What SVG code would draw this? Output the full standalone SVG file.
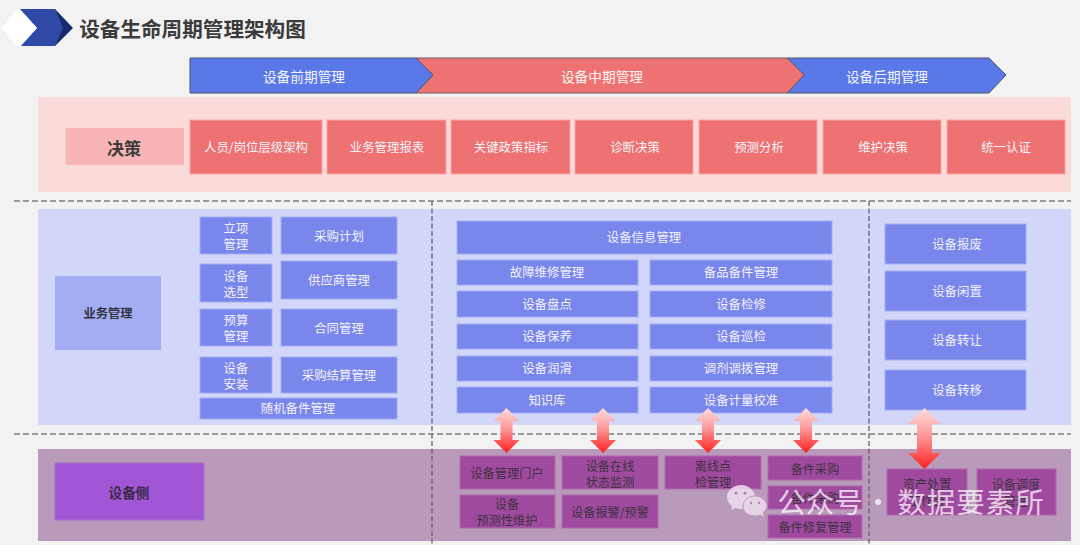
<svg xmlns="http://www.w3.org/2000/svg" width="1080" height="545" viewBox="0 0 1080 545">
<defs>
<linearGradient id="redFade" x1="0" y1="0" x2="0" y2="1"><stop offset="0" stop-color="#ffdcdc"/><stop offset="0.45" stop-color="#fd9a9a"/><stop offset="1" stop-color="#fe1f1f"/></linearGradient>
<symbol id="arrowS" overflow="visible"><path d="M0 0L13 13H6V32H13L0 45L-13 32H-6V13H-13Z" fill="url(#redFade)"/></symbol>
</defs>
<style>
text{font-family:"Noto Sans CJK SC","Liberation Sans",sans-serif;text-anchor:middle;dominant-baseline:central}
.w{fill:#f3f3fb;font-size:12.4px}
.d{fill:#3c3240;font-size:12.2px}
.red{fill:#ee7271;stroke:#f7a6a4;stroke-width:1}
.blue{fill:#7986ec;stroke:#a3adf3;stroke-width:1}
.pur{fill:#a04a9f;stroke:#b066ae;stroke-width:1}
.sep{stroke:#7f7f7f;stroke-width:1.5;fill:none;stroke-dasharray:6 3}
.sepv{stroke:#666;stroke-width:1.3;fill:none;stroke-dasharray:5 2.5}
.wm{fill:#fff;fill-opacity:.72;font-size:28.5px}
</style>
<rect width="1080" height="545" fill="#f2f2f2"/>
<g id="title-icon">
<path d="M55 9L73 28L55 46L52 28Z" fill="#162a6e"/>
<path d="M20 9H55L63 28L55 46H21L37 28Z" fill="#2f4aa6"/>
<path d="M1 28L17 10H20L37 28L20 46H17Z" fill="#fff"/>
</g>
<text id="title" x="192.500" y="28" style="font-size:20.6px;font-weight:700;fill:#3b3b3b">设备生命周期管理架构图</text>
<g id="phase-3"><path d="M787 58H989L1006 75L989 93H787L804 75Z" fill="#5a78e8" stroke="#4a5570" stroke-width="1"/><text x="887" y="75.500" fill="#f4f6ff" style="font-size:13.7px">设备后期管理</text></g>
<g id="phase-2"><path d="M416 58H787L804 75L787 93H416L433 75Z" fill="#ee7271" stroke="#6a5a62" stroke-width="1"/><text x="602" y="75.500" fill="#fff4f4" style="font-size:13.7px">设备中期管理</text></g>
<g id="phase-1"><path d="M190 58H416L433 75L416 93H190Z" fill="#5a78e8" stroke="#4a5570" stroke-width="1"/><text x="304" y="75.500" fill="#f4f6ff" style="font-size:13.7px">设备前期管理</text></g>

<g id="panel-decision"><rect x="38" y="97" width="1033" height="95" fill="#fadbd9"/></g>
<g id="label-decision"><rect x="65.500" y="128" width="118.500" height="37" fill="#f7b6b5"/><text x="124" y="147" style="font-size:17px;font-weight:700;fill:#3c3c3c">决策</text></g>
<g id="d1"><rect class="red" x="190" y="120" width="132" height="54"/><text class="w" x="256" y="146.500">人员/岗位层级架构</text></g>
<g id="d2"><rect class="red" x="327" y="120" width="119" height="54"/><text class="w" x="387" y="146.500">业务管理报表</text></g>
<g id="d3"><rect class="red" x="451" y="120" width="119" height="54"/><text class="w" x="511" y="146.500">关键政策指标</text></g>
<g id="d4"><rect class="red" x="575" y="120" width="118" height="54"/><text class="w" x="635" y="146.500">诊断决策</text></g>
<g id="d5"><rect class="red" x="699" y="120" width="118" height="54"/><text class="w" x="759" y="146.500">预测分析</text></g>
<g id="d6"><rect class="red" x="823" y="120" width="118" height="54"/><text class="w" x="883" y="146.500">维护决策</text></g>
<g id="d7"><rect class="red" x="947" y="120" width="118" height="54"/><text class="w" x="1006" y="146.500">统一认证</text></g>

<g id="panel-business"><rect x="38" y="209" width="1033" height="216" fill="#d2d6f9"/></g>
<g id="label-business"><rect x="55" y="276" width="106" height="74" fill="#a3adf3"/><text x="108" y="313" style="font-size:12.3px;font-weight:700;fill:#33333f">业务管理</text></g>
<g id="b1"><rect class="blue" x="200" y="217" width="72" height="37"/><text class="w" x="236" y="228">立项</text><text class="w" x="236" y="244">管理</text></g>
<g id="b2"><rect class="blue" x="281" y="217" width="116" height="37"/><text class="w" x="339" y="235.500">采购计划</text></g>
<g id="b3"><rect class="blue" x="200" y="264" width="72" height="38"/><text class="w" x="236" y="276">设备</text><text class="w" x="236" y="292">选型</text></g>
<g id="b4"><rect class="blue" x="281" y="261" width="116" height="38"/><text class="w" x="339" y="280">供应商管理</text></g>
<g id="b5"><rect class="blue" x="200" y="309" width="72" height="37"/><text class="w" x="236" y="320">预算</text><text class="w" x="236" y="336">管理</text></g>
<g id="b6"><rect class="blue" x="281" y="309" width="116" height="37"/><text class="w" x="339" y="328">合同管理</text></g>
<g id="b7"><rect class="blue" x="200" y="357" width="72" height="36"/><text class="w" x="236" y="368">设备</text><text class="w" x="236" y="384">安装</text></g>
<g id="b8"><rect class="blue" x="281" y="357" width="116" height="36"/><text class="w" x="339" y="375">采购结算管理</text></g>
<g id="b9"><rect class="blue" x="200" y="398" width="197" height="21"/><text class="w" x="298" y="408">随机备件管理</text></g>

<g id="m0"><rect class="blue" x="457" y="221" width="375" height="33"/><text class="w" x="644" y="237">设备信息管理</text></g>
<g id="m1"><rect class="blue" x="457" y="260" width="181" height="25"/><text class="w" x="547" y="272">故障维修管理</text></g>
<g id="m2"><rect class="blue" x="650" y="260" width="182" height="25"/><text class="w" x="741" y="272">备品备件管理</text></g>
<g id="m3"><rect class="blue" x="457" y="291" width="181" height="26"/><text class="w" x="547" y="304">设备盘点</text></g>
<g id="m4"><rect class="blue" x="650" y="291" width="182" height="26"/><text class="w" x="741" y="304">设备检修</text></g>
<g id="m5"><rect class="blue" x="457" y="324" width="181" height="25"/><text class="w" x="547" y="336">设备保养</text></g>
<g id="m6"><rect class="blue" x="650" y="324" width="182" height="25"/><text class="w" x="741" y="336">设备巡检</text></g>
<g id="m7"><rect class="blue" x="457" y="356" width="181" height="25"/><text class="w" x="547" y="368">设备润滑</text></g>
<g id="m8"><rect class="blue" x="650" y="356" width="182" height="25"/><text class="w" x="741" y="368">调剂调拨管理</text></g>
<g id="m9"><rect class="blue" x="457" y="387" width="181" height="26"/><text class="w" x="547" y="400">知识库</text></g>
<g id="m10"><rect class="blue" x="650" y="387" width="182" height="26"/><text class="w" x="741" y="400">设备计量校准</text></g>

<g id="r1"><rect class="blue" x="885" y="224" width="141" height="40"/><text class="w" x="957" y="244">设备报废</text></g>
<g id="r2"><rect class="blue" x="885" y="271" width="141" height="40"/><text class="w" x="957" y="291">设备闲置</text></g>
<g id="r3"><rect class="blue" x="885" y="320" width="141" height="40"/><text class="w" x="957" y="340">设备转让</text></g>
<g id="r4"><rect class="blue" x="885" y="370" width="141" height="40"/><text class="w" x="957" y="390">设备转移</text></g>

<g id="panel-device"><rect x="38" y="449" width="1033" height="92" fill="#ba9abb"/></g>
<g id="label-device"><rect x="55" y="463" width="149" height="57" fill="#a156d5" stroke="#a86cc8" stroke-width="1"/><text x="129" y="492" style="font-size:13.700px;font-weight:700;fill:#3a2a4a">设备侧</text></g>
<g id="e1"><rect class="pur" x="460" y="456" width="95" height="33"/><text class="d" x="507" y="473">设备管理门户</text></g>
<g id="e2"><rect class="pur" x="562" y="456" width="96" height="33"/><text class="d" x="610" y="466">设备在线</text><text class="d" x="610" y="482">状态监测</text></g>
<g id="e3"><rect class="pur" x="665" y="456" width="96" height="33"/><text class="d" x="713" y="466">离线点</text><text class="d" x="713" y="482">检管理</text></g>
<g id="e4"><rect class="pur" x="768" y="456" width="94" height="24"/><text class="d" x="815" y="469">备件采购</text></g>
<g id="e5"><rect class="pur" x="768" y="486" width="94" height="23"/><text class="d" x="815" y="498">备件采购</text></g>
<g id="e6"><rect class="pur" x="768" y="515" width="94" height="23"/><text class="d" x="815" y="527">备件修复管理</text></g>
<g id="e7"><rect class="pur" x="460" y="495" width="95" height="33"/><text class="d" x="507" y="504">设备</text><text class="d" x="507" y="520">预测性维护</text></g>
<g id="e8"><rect class="pur" x="562" y="495" width="96" height="33"/><text class="d" x="610" y="512">设备报警/预警</text></g>
<g id="e9"><rect class="pur" x="887" y="469" width="80" height="46"/><text class="d" x="927" y="484">资产处置</text><text class="d" x="927" y="501">工作台</text></g>
<g id="e10"><rect class="pur" x="977" y="469" width="79" height="46"/><text class="d" x="1016" y="484">设备调度</text><text class="d" x="1016" y="501">管理</text></g>

<g id="connectors">
<path class="sep" d="M14 201H1071"/>
<path class="sep" d="M14 434H1071"/>
<path class="sepv" d="M432 201V545"/>
<path class="sepv" d="M869 201V545"/>
<use href="#arrowS" x="506.500" y="408"/>
<use href="#arrowS" x="603" y="408"/>
<use href="#arrowS" x="708" y="408"/>
<use href="#arrowS" x="806" y="408"/>
<path d="M924.500 408L941 424H932V453H941L924.500 469L908 453H917V424H908Z" fill="url(#redFade)"/>
</g>
<g id="watermark">
<path d="M741 485C733 485 727 491 727 497C727 501 729 504 732 506L731 510L736 508C738 509 739 509 741 509C749 509 755 504 755 497C755 491 749 485 741 485Z" fill="#eddfed" fill-opacity=".85"/>
<path d="M755 496C748 496 743 501 743 506C743 512 748 516 755 516C757 516 758 516 760 515L765 518L763 513C765 511 767 509 767 506C767 501 762 496 755 496Z" fill="#e6d4e6" stroke="#b79ab9" stroke-width="1"/>
<g fill="#a88aa8"><circle cx="736" cy="493" r="1.500"/><circle cx="745" cy="493" r="1.500"/><circle cx="751" cy="503" r="1.200"/><circle cx="759" cy="503" r="1.200"/></g>
<text class="wm" x="820" y="500">公众号</text>
<text class="wm" x="878" y="500">·</text>
<text class="wm" x="971" y="500" letter-spacing="1">数据要素所</text>
</g>
</svg>
